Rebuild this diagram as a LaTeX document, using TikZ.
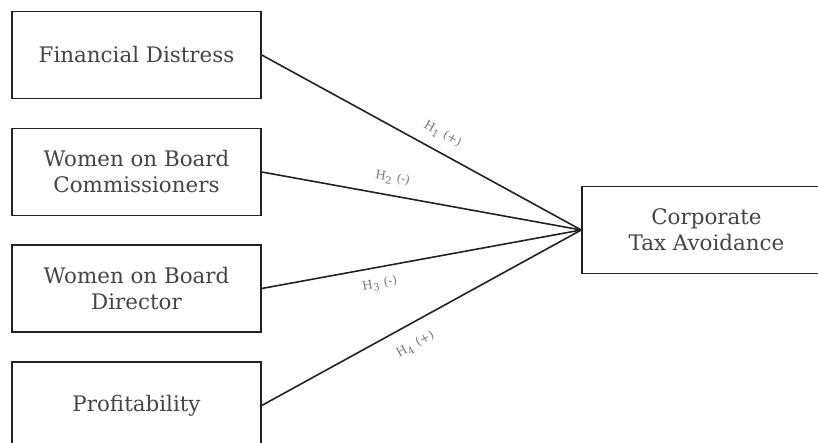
\documentclass[tikz,border=0pt]{standalone}
\usepackage{fontspec}
\setmainfont{DejaVu Serif}
\usepackage{tikz}
\usepackage{xcolor}

\definecolor{boxtext}{HTML}{444444}
\definecolor{hyptext}{HTML}{777777}
\definecolor{edge}{HTML}{222222}

\begin{document}
\begin{tikzpicture}[x=0.5pt,y=-0.5pt]
\useasboundingbox (0,0) rectangle (818,443);
\clip (0,0) rectangle (818,443);
\begin{scope}[every node/.style={rectangle,draw=edge,line width=0.75pt,minimum width=124.5pt,minimum height=43.5pt,align=center,text=boxtext,font=\fontsize{10.7}{13}\selectfont}]
\node (1) at (136.5,55)  {Financial Distress};
\node (2) at (136.5,172) {Women on Board\\Commissioners};
\node (3) at (136.5,288.5) {Women on Board\\Director};
\node (4) at (136.5,405.5) {Profitability};

\node (5) at (706.5,230) {Corporate\\Tax Avoidance};
\end{scope}

\begin{scope}[every node/.style={sloped,text=hyptext,inner sep=1pt,font=\fontsize{6}{7}\selectfont}]
\draw[edge, line width=0.8pt] (1.east) -- node[pos=0.54,above=4pt] {H\textsubscript{1} (+)} (5.west);
\draw[edge, line width=0.8pt] (2.east) -- node[pos=0.40,above=4pt] {H\textsubscript{2} (-)} (5.west);
\draw[edge, line width=0.8pt] (3.east) -- node[pos=0.36,below=4pt] {H\textsubscript{3} (-)} (5.west);
\draw[edge, line width=0.8pt] (4.east) -- node[pos=0.45,below=6pt] {H\textsubscript{4} (+)} (5.west);
\end{scope}

\end{tikzpicture}
\end{document}
